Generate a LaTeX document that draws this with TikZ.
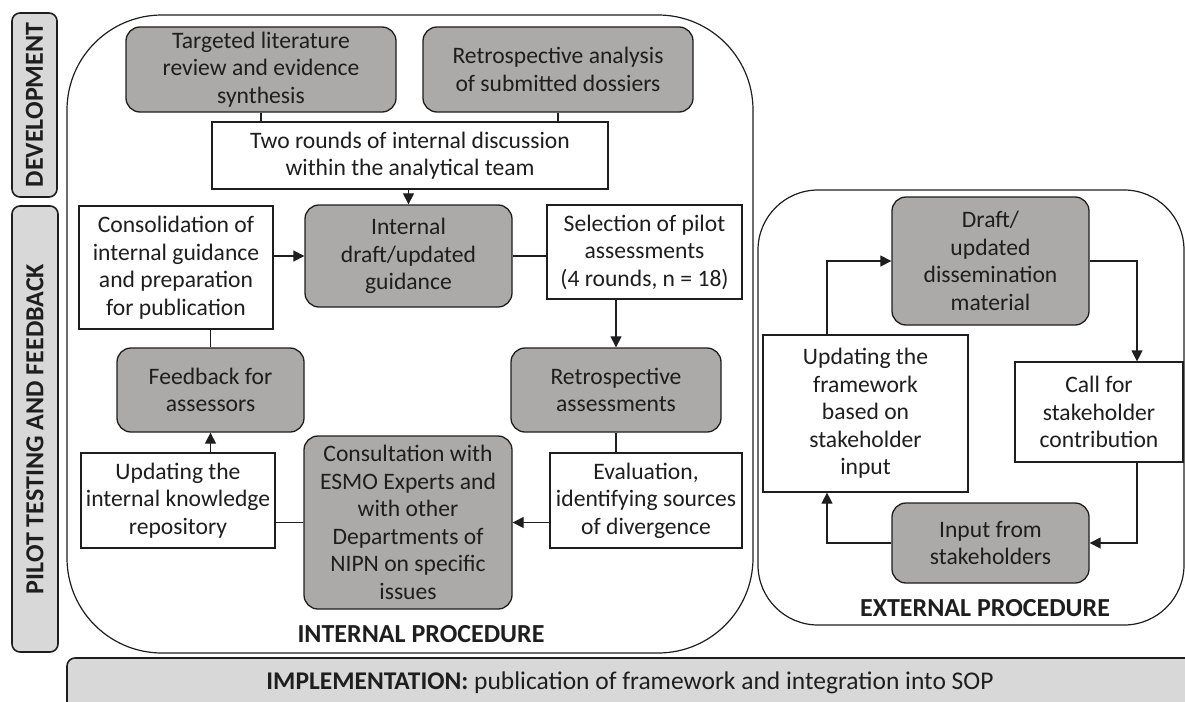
\documentclass[tikz,border=0pt]{standalone}
\usepackage{fontspec}
\setmainfont{Carlito}
\usetikzlibrary{arrows.meta}
\definecolor{ngray}{RGB}{172,169,169}
\definecolor{lgray}{RGB}{216,216,216}
\definecolor{txt}{RGB}{30,30,30}
\definecolor{ln}{RGB}{30,30,30}
\newcommand{\bx}[7]{\node[#6, minimum width={#4-#2}, minimum height={#5-#3}] (#1) at ({(#2+#4)/2},{(#3+#5)/2}) {#7};}
\begin{document}
\begin{tikzpicture}[x=1pt,y=-1pt,
  every node/.style={text=txt, font=\fontsize{23.6}{27.5}\selectfont, align=center, inner sep=0pt},
  gbox/.style={draw=ln, line width=1.3pt, fill=ngray, rounded corners=14pt},
  wbox/.style={draw=ln, line width=1.2pt, fill=white},
  lbar/.style={draw=ln, line width=1.6pt, fill=lgray, rounded corners=8pt},
  conn/.style={draw=ln, line width=1.2pt},
  arr/.style={conn, -{Triangle[length=11pt,width=11pt]}},
  frame/.style={draw=ln, line width=1.2pt},
  blab/.style={font=\fontsize{26}{30}\selectfont\bfseries}]
\useasboundingbox (0,0) rectangle (1185,701);
% side labels
\bx{dev}{12}{13}{57}{197}{lbar}{}
\node[rotate=90, blab] (devt) at (dev.center) {DEVELOPMENT};
\bx{pilot}{12}{206}{58}{652}{lbar}{}
\node[rotate=90, blab] (pilt) at (pilot.center) {PILOT TESTING AND FEEDBACK};
% implementation bar
\draw[lbar] (67,710) -- (67,658) -- (1195,658) -- (1195,710) -- cycle;
\node[font=\fontsize{25.5}{30}\selectfont] (impl) at (630,683) {\textbf{IMPLEMENTATION:} publication of framework and integration into SOP};
% procedure frames
\draw[frame, rounded corners=95pt] (67,15) rectangle (753,653);
\draw[frame, rounded corners=60pt] (758,190) rectangle (1184,625);
\node[blab] (intl) at (421,634) {INTERNAL PROCEDURE};
\node[blab] (extl) at (985,608) {EXTERNAL PROCEDURE};
% internal nodes
\bx{lit}{126}{27}{396}{112}{gbox}{Targeted literature\\review and evidence\\synthesis}
\bx{retro}{423}{27}{693}{112}{gbox}{Retrospective analysis\\of submitted dossiers}
\bx{two}{212}{122}{608}{189}{wbox}{Two rounds of internal discussion\\within the analytical team}
\bx{draft}{305}{205}{512}{307}{gbox}{Internal\\draft/updated\\guidance}
\bx{cons}{79}{206}{273}{329}{wbox}{Consolidation of\\internal guidance\\and preparation\\for publication}
\bx{sel}{547}{205}{742}{299}{wbox}{Selection of pilot\\assessments\\(4 rounds, n = 18)}
\bx{retroA}{511}{348}{721}{432}{gbox}{Retrospective\\assessments}
\bx{eval}{550}{453}{742}{548}{wbox}{Evaluation,\\identifying sources\\of divergence}
\bx{consult}{304}{436}{512}{609}{gbox}{Consultation with\\ESMO Experts and\\with other\\Departments of\\NIPN on specific\\issues}
\bx{repo}{81}{453}{275}{548}{wbox}{Updating the\\internal knowledge\\repository}
\bx{feed}{117}{348}{304}{432}{gbox}{Feedback for\\assessors}
% external nodes
\bx{diss}{892}{197}{1089}{325}{gbox}{Draft/\\updated\\dissemination\\material}
\bx{call}{1015}{362}{1183}{462}{wbox}{Call for\\stakeholder\\contribution}
\bx{input}{892}{503}{1089}{583}{gbox}{Input from\\stakeholders}
\bx{upd}{763}{335}{968}{492}{wbox}{Updating the\\framework\\based on\\stakeholder\\input}
% internal connectors
\draw[conn] (lit.south) -- (lit.south |- two.north);
\draw[conn] (retro.south) -- (retro.south |- two.north);
\draw[arr] (draft.north |- two.south) -- (draft.north);
\draw[arr] (cons.east |- draft.west) -- (draft.west);
\draw[conn] (draft.east) -- (draft.east -| sel.west);
\draw[arr] (retroA.north |- sel.south) -- (retroA.north);
\draw[conn] (retroA.south) -- (retroA.south |- eval.north);
\draw[arr] (eval.west |- consult.east) -- (consult.east);
\draw[conn] (consult.west) -- (consult.west -| repo.east);
\draw[arr] (feed.south |- repo.north) -- (feed.south);
\draw[conn] (feed.north |- cons.south) -- (feed.north);
% external connectors
\coordinate (c1) at (1137,261);
\coordinate (c2) at (827,543);
\draw[arr] (diss.east) -| (c1 |- call.north);
\draw[arr] (call.south -| c1) |- (input.east);
\draw[arr] (input.west) -| (c2 |- upd.south);
\draw[arr] (upd.north -| c2) |- (diss.west);
\end{tikzpicture}
\end{document}
